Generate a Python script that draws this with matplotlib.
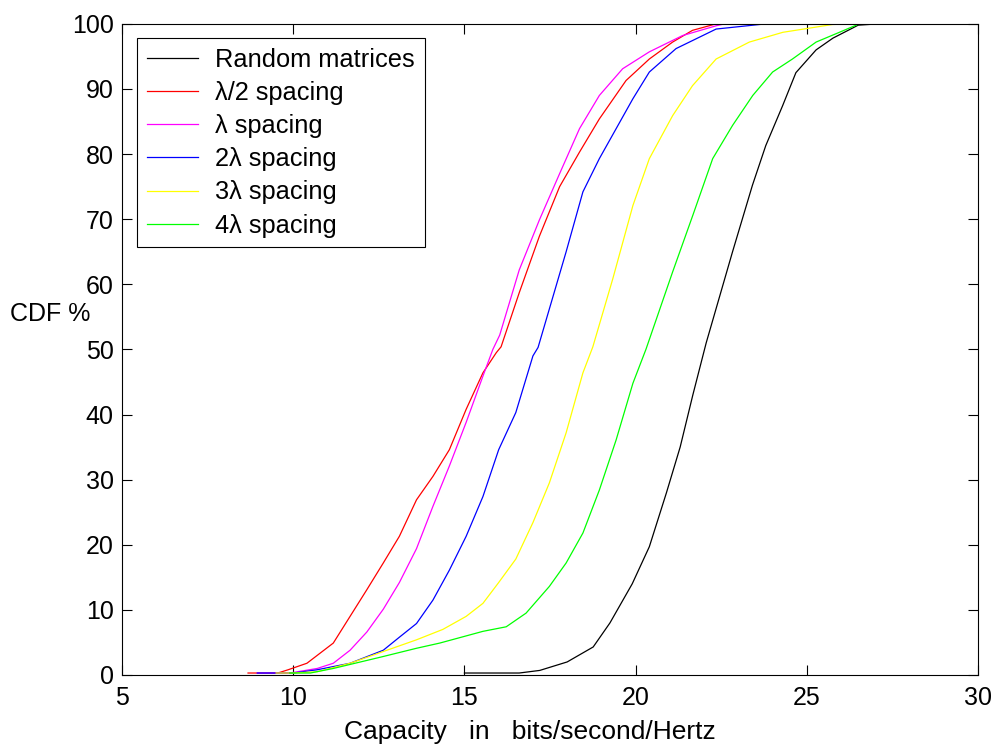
import matplotlib
matplotlib.use('Agg')
import matplotlib.pyplot as plt

plt.rcParams['font.family'] = ['Liberation Sans', 'DejaVu Sans']

rand_x = [15.0, 16.6, 17.2, 18.0, 18.76, 19.25, 19.9, 20.4, 20.9, 21.3, 21.67, 22.06,
          22.83, 23.41, 23.8, 24.29, 24.68, 25.27, 25.76, 26.5, 27.1]
rand_y = [0.3, 0.3, 0.7, 2, 4.3, 8, 14, 19.7, 28, 35, 43, 51,
          65, 75.2, 81.3, 87.4, 92.5, 96, 97.8, 99.8, 100]

half_x = [8.68, 9.55, 9.85, 10.4, 11.17, 11.66, 12.15, 12.63, 13.1, 13.6, 14.08, 14.56,
          15.05, 15.54, 15.93, 16.07, 16.6, 17.19, 17.78, 18.36, 18.94, 19.72, 20.4,
          21.08, 21.66, 22.35]
half_y = [0.3, 0.3, 0.8, 1.8, 4.9, 9, 13.1, 17.2, 21.3, 26.9, 30.5, 34.6,
          40.8, 46.4, 49.5, 50.4, 58.7, 67.4, 75, 80.3, 85.4, 91.3, 94.6,
          97.2, 99.0, 100]

one_x = [8.95, 9.9, 10.7, 11.17, 11.66, 12.15, 12.63, 13.1, 13.6, 14.08, 14.56, 15.05,
         15.54, 15.83, 16.03, 16.6, 17.19, 17.78, 18.36, 18.94, 19.62, 20.4, 21.37,
         22.35, 22.6]
one_y = [0.3, 0.3, 1, 1.8, 3.8, 6.6, 10.1, 14.2, 19.4, 25.9, 32.1, 38.8,
         45.9, 50, 52.2, 62.2, 69.9, 77, 83.9, 89, 93.1, 95.7, 98.2,
         99.7, 100]

two_x = [8.95, 10.0, 10.7, 11.66, 12.63, 13.1, 13.6, 14.08, 14.56, 15.05, 15.54, 16.0,
         16.5, 17.0, 17.15, 17.97, 18.46, 18.94, 19.43, 19.92, 20.4, 21.18, 22.35, 23.8]
two_y = [0.3, 0.3, 0.8, 1.8, 3.8, 5.8, 7.9, 11.5, 16.1, 21.3, 27.4, 34.6,
         40.3, 49, 50.3, 65, 74.2, 79.3, 83.9, 88.5, 92.6, 96.2, 99.2, 100]

three_x = [9.5, 10.0, 10.7, 11.66, 12.63, 13.6, 14.37, 15.05, 15.54, 16.0, 16.5, 17.0,
           17.48, 17.97, 18.46, 18.75, 19.33, 19.92, 20.4, 21.08, 21.66, 22.35, 23.32,
           24.3, 25.75, 26.33]
three_y = [0.3, 0.3, 0.5, 1.8, 3.6, 5.4, 7.0, 9.0, 11.0, 14.2, 17.8, 23.4,
           29.5, 37.2, 46.4, 50.4, 60.8, 72.1, 79.3, 85.9, 90.5, 94.6, 97.2,
           98.7, 99.9, 100]

four_x = [9.9, 10.5, 11.17, 12.6, 13.6, 14.28, 15.54, 16.22, 16.8, 17.48, 17.97, 18.46,
          18.94, 19.43, 19.92, 20.3, 21.08, 21.67, 22.25, 22.83, 23.42, 24.0, 24.58,
          25.27, 25.95, 26.53]
four_y = [0.3, 0.3, 1, 2.8, 4.1, 4.9, 6.7, 7.4, 9.5, 13.6, 17.2, 21.8,
          28.4, 36.1, 44.8, 50, 61.9, 70.6, 79.3, 84.4, 89.0, 92.6, 94.6,
          97.2, 98.7, 100]

labels = ['Random matrices', 'λ/2 spacing', 'λ spacing', '2λ spacing', '3λ spacing', '4λ spacing']
colors = ['black', 'red', 'magenta', 'blue', 'yellow', 'lime']

fig = plt.figure(figsize=(9.97, 7.45), dpi=100)
ax = fig.add_axes([0.1224, 0.094, 0.8586, 0.874])

series = [(rand_x, rand_y), (half_x, half_y), (one_x, one_y),
          (two_x, two_y), (three_x, three_y), (four_x, four_y)]
for (xs, ys), lab, c in zip(series, labels, colors):
    ax.plot(xs, ys, color=c, lw=0.9, label=lab)

ax.set_xlim(5, 30)
ax.set_ylim(0, 100)
ax.set_xticks(range(5, 31, 5))
ax.set_yticks(range(0, 101, 10))
ax.tick_params(direction='in', length=7, width=0.8, top=True, right=True, labelsize=18)
ax.tick_params(axis='x', pad=8)
ax.tick_params(axis='y', pad=6)
for s in ax.spines.values():
    s.set_linewidth(0.8)

ax.set_xlabel('Capacity   in   bits/second/Hertz', fontsize=19, labelpad=7)
ax.xaxis.label.set_x(0.4766)
ax.text(-0.084, 0.5545, 'CDF %', transform=ax.transAxes, fontsize=18, ha='center', va='center')

leg = ax.legend(loc='upper left', bbox_to_anchor=(0.0175, 0.978), borderaxespad=0,
                fontsize=18.3, frameon=True, fancybox=False, edgecolor='black', framealpha=1,
                handlelength=2.0, handletextpad=0.7, labelspacing=0.36, borderpad=0.38)
leg.get_frame().set_linewidth(0.8)

fig.savefig('out.png', dpi=100)
